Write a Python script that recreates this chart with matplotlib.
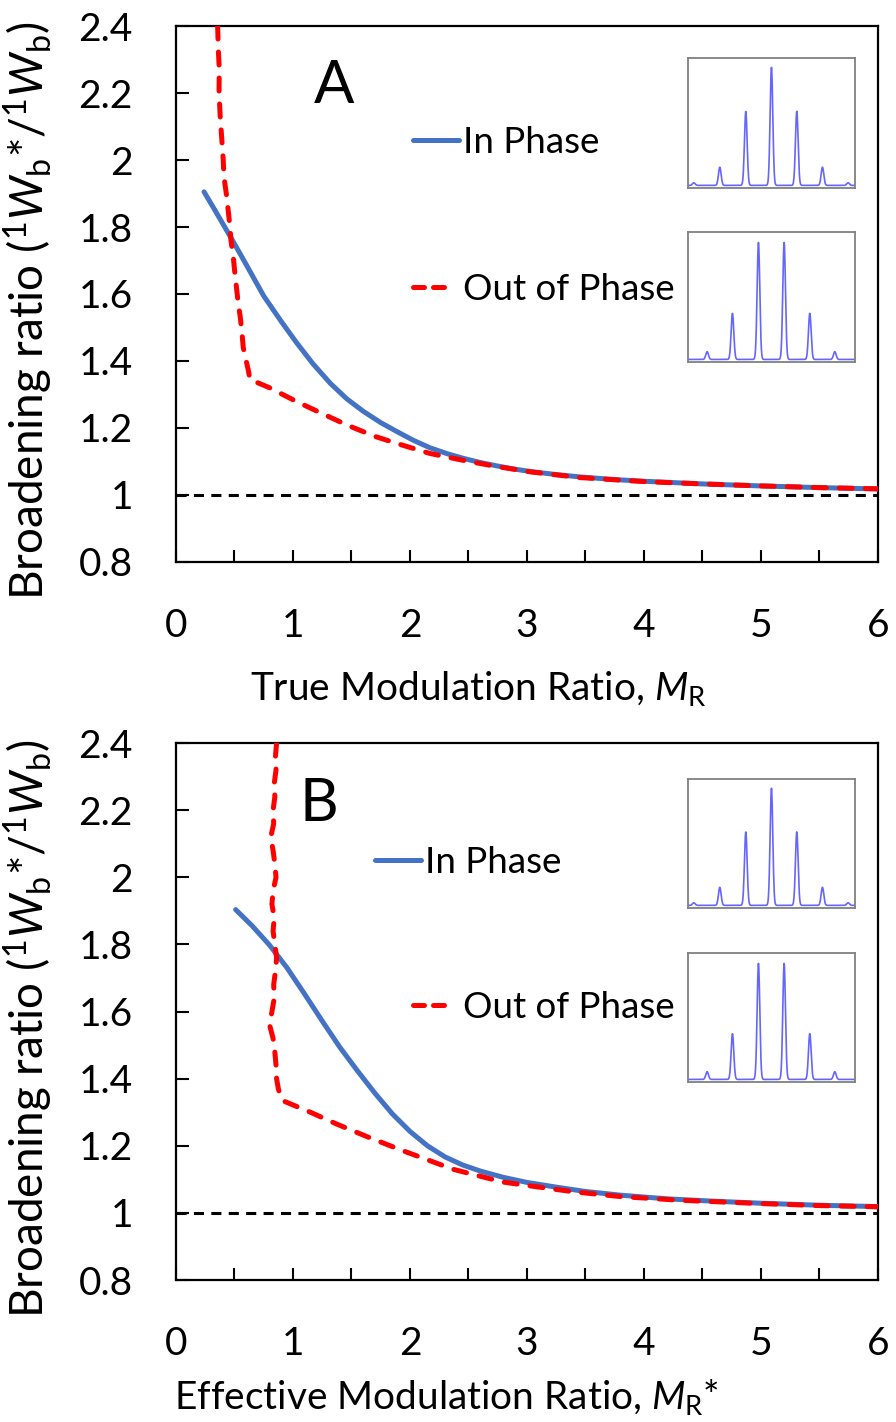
import numpy as np
import matplotlib
matplotlib.use("Agg")
import matplotlib.pyplot as plt
from matplotlib.ticker import MultipleLocator, FuncFormatter
from matplotlib.lines import Line2D

plt.rcParams['font.family'] = ['Lato', 'DejaVu Sans']
plt.rcParams['mathtext.fontset'] = 'custom'
plt.rcParams['mathtext.rm'] = 'Lato'
plt.rcParams['mathtext.it'] = 'Lato:italic'

# ---- panel A : true modulation ratio ----
x_in_a = [0.24, 0.35, 0.48, 0.60, 0.75, 0.90, 1.03, 1.17, 1.32, 1.46, 1.60, 1.75, 1.89,
          2.03, 2.17, 2.32, 2.46, 2.60, 2.74, 2.88, 3.03, 3.25, 3.45, 3.75, 4.0, 4.5,
          5.0, 5.5, 6.0]
y_in_a = [1.905, 1.840, 1.762, 1.688, 1.594, 1.518, 1.455, 1.392, 1.333, 1.287, 1.250,
          1.216, 1.189, 1.163, 1.141, 1.123, 1.109, 1.097, 1.087, 1.078, 1.070, 1.061,
          1.054, 1.046, 1.041, 1.033, 1.027, 1.022, 1.018]

x_out_a = [0.356, 0.362, 0.370, 0.368, 0.378, 0.392, 0.404, 0.41, 0.43, 0.462, 0.47, 0.49,
           0.504, 0.52, 0.533, 0.55, 0.565, 0.575, 0.60, 0.618, 0.632, 0.80, 1.03, 1.25,
           1.46, 1.70, 1.886, 2.17, 2.46, 2.74, 3.03, 3.45, 4.0, 4.5, 5.0, 5.5, 6.05]
y_out_a = [2.40, 2.33, 2.27, 2.20, 2.13, 2.06, 2.00, 1.95, 1.90, 1.80, 1.76, 1.71,
           1.66, 1.61, 1.57, 1.53, 1.48, 1.44, 1.40, 1.373, 1.345, 1.32, 1.279, 1.243,
           1.209, 1.175, 1.154, 1.124, 1.103, 1.085, 1.069, 1.052, 1.040, 1.033, 1.027,
           1.022, 1.018]

# ---- panel B : effective modulation ratio ----
x_in_b = [0.51, 0.65, 0.80, 0.95, 1.10, 1.25, 1.40, 1.55, 1.70, 1.85, 2.00, 2.15, 2.30,
          2.45, 2.60, 2.80, 3.00, 3.25, 3.50, 3.80, 4.2, 4.6, 5.0, 5.5, 6.0]
y_in_b = [1.904, 1.856, 1.798, 1.730, 1.652, 1.572, 1.494, 1.424, 1.357, 1.295, 1.243,
          1.200, 1.167, 1.143, 1.125, 1.106, 1.091, 1.077, 1.064, 1.053, 1.042, 1.035,
          1.029, 1.023, 1.019]

x_out_b = [0.86, 0.85, 0.855, 0.84, 0.845, 0.83, 0.835, 0.81, 0.83, 0.845, 0.855, 0.83,
           0.82, 0.84, 0.83, 0.845, 0.86, 0.85, 0.835, 0.84, 0.82, 0.80, 0.83, 0.845,
           0.855, 0.86, 0.875, 0.895, 0.917, 1.15, 1.373, 1.65, 1.943, 2.37, 2.797,
           3.083, 3.40, 3.795, 4.3, 5.0, 5.5, 6.05]
y_out_b = [2.40, 2.36, 2.32, 2.28, 2.24, 2.20, 2.16, 2.12, 2.08, 2.04, 2.00, 1.96,
           1.92, 1.88, 1.84, 1.80, 1.76, 1.72, 1.68, 1.64, 1.60, 1.56, 1.52, 1.48,
           1.44, 1.40, 1.37, 1.345, 1.334, 1.30, 1.265, 1.225, 1.185, 1.13, 1.092,
           1.078, 1.063, 1.049, 1.038, 1.028, 1.022, 1.018]

# ---- inset chromatogram peaks (position, height, relative to inset box) ----
peak_pos_in = [0.034, 0.19, 0.346, 0.5, 0.652, 0.806, 0.96]
peak_h_in = [0.02, 0.14, 0.57, 0.91, 0.57, 0.14, 0.02]
peak_pos_out = [0.114, 0.266, 0.422, 0.576, 0.73, 0.88]
peak_h_out = [0.06, 0.355, 0.90, 0.90, 0.355, 0.06]
peak_base = 0.02
peak_sigma = 0.008

BLUE = '#4472C4'
RED = '#FF0000'
FS_TICK = 28
FS_XLAB = 28
FS_YLAB = 33
FS_LEG = 26.5

fig = plt.figure(figsize=(8.96, 14.22), dpi=100)
ax_a = fig.add_axes([0.1964, 0.6048, 0.7835, 0.3769])
ax_b = fig.add_axes([0.1964, 0.0998, 0.7835, 0.3776])

ylab = r'Broadening ratio (${}^{1}W_{\mathrm{b}}$*/${}^{1}W_{\mathrm{b}}$)'


def style(ax, xlabel, xlab_pos, panel, panel_x):
    ax.set_xlim(0, 6)
    ax.set_ylim(0.8, 2.4)
    ax.xaxis.set_major_locator(MultipleLocator(1))
    ax.xaxis.set_minor_locator(MultipleLocator(0.5))
    ax.yaxis.set_major_locator(MultipleLocator(0.2))
    ax.yaxis.set_major_formatter(FuncFormatter(lambda v, p: '{:g}'.format(round(v, 1))))
    ax.tick_params(which='both', direction='in', length=9, width=1.5, labelsize=FS_TICK)
    ax.tick_params(axis='x', pad=33)
    ax.tick_params(axis='y', pad=31)
    for s in ax.spines.values():
        s.set_linewidth(1.6)
    ax.axhline(1.0, color='black', lw=2.2, ls=(0, (3.3, 2.4)), zorder=1)
    ax.set_ylabel(ylab, fontsize=FS_YLAB)
    ax.set_xlabel(xlabel, fontsize=FS_XLAB)
    ax.xaxis.set_label_coords(*xlab_pos)
    ax.yaxis.set_label_coords(-0.172, 0.468)
    ax.text(panel_x, 2.22, panel, fontsize=43, ha='center', va='center')


def add_legends(ax, in_anchor, out_anchor):
    h_in = Line2D([], [], color=BLUE, lw=3.6, solid_capstyle='round')
    h_out = Line2D([], [], color=RED, lw=3.6, ls=(0, (2.2, 1.8)), dash_capstyle='round')
    leg1 = ax.legend([h_in], ['In Phase'], loc='center left', bbox_to_anchor=in_anchor,
                     frameon=False, fontsize=FS_LEG, handlelength=1.25, handletextpad=0.1,
                     borderaxespad=0, borderpad=0)
    ax.add_artist(leg1)
    ax.legend([h_out], ['Out of Phase'], loc='center left', bbox_to_anchor=out_anchor,
              frameon=False, fontsize=FS_LEG, handlelength=1.05, handletextpad=0.3,
              borderaxespad=0, borderpad=0)


def inset(rect, pos, heights):
    ins = fig.add_axes(rect)
    grid = np.linspace(0, 1, 800)
    sig = np.full_like(grid, peak_base)
    for p, h in zip(pos, heights):
        sig += h * np.exp(-0.5 * ((grid - p) / peak_sigma) ** 2)
    ins.plot(grid, sig, color='#4a4aff', lw=1.2, alpha=0.85)
    ins.set_xlim(0, 1)
    ins.set_ylim(0, 1)
    ins.set_xticks([])
    ins.set_yticks([])
    for s in ins.spines.values():
        s.set_color('#808080')
        s.set_linewidth(1.3)


# panel A
ax_a.plot(x_in_a, y_in_a, color=BLUE, lw=3.6, solid_capstyle='round', zorder=3)
ax_a.plot(x_out_a, y_out_a, color=RED, lw=3.6, ls=(0, (2.6, 2.6)), dash_capstyle='round', zorder=4)
style(ax_a, r'True Modulation Ratio, $M_{\mathrm{R}}$', (0.43, -0.2), 'A', 1.35)
add_legends(ax_a, (0.338, 0.782), (0.338, 0.508))

# panel B
ax_b.plot(x_in_b, y_in_b, color=BLUE, lw=3.6, solid_capstyle='round', zorder=3)
ax_b.plot(x_out_b, y_out_b, color=RED, lw=3.6, ls=(0, (2.6, 2.6)), dash_capstyle='round', zorder=4)
style(ax_b, r'Effective Modulation Ratio, $M_{\mathrm{R}}$*', (0.385, -0.18), 'B', 1.22)
add_legends(ax_b, (0.284, 0.777), (0.338, 0.508))

inset([0.768, 0.8678, 0.186, 0.0914], peak_pos_in, peak_h_in)
inset([0.768, 0.7454, 0.186, 0.0914], peak_pos_out, peak_h_out)
inset([0.768, 0.3615, 0.186, 0.0907], peak_pos_in, peak_h_in)
inset([0.768, 0.2391, 0.186, 0.0907], peak_pos_out, peak_h_out)

fig.savefig('out.png', dpi=100)
